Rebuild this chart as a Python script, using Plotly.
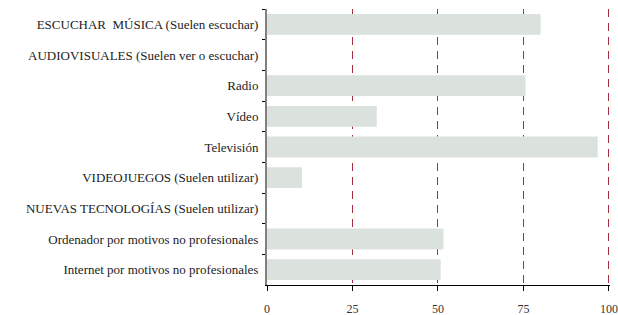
import plotly.graph_objects as go

categories = [
    "ESCUCHAR  MÚSICA (Suelen escuchar)",
    "AUDIOVISUALES (Suelen ver o escuchar)",
    "Radio",
    "Vídeo",
    "Televisión",
    "VIDEOJUEGOS (Suelen utilizar)",
    "NUEVAS TECNOLOGÍAS (Suelen utilizar)",
    "Ordenador por motivos no profesionales",
    "Internet por motivos no profesionales",
]
values = [80.0, None, 75.6, 32.1, 96.7, 10.2, None, 51.6, 50.8]
x_ticks = [0, 25, 50, 75, 100]

font_family = "'Liberation Serif', 'Times New Roman', Times, serif"

fig = go.Figure(go.Bar(
    x=values, y=categories, orientation="h",
    marker=dict(color="#dbe1dc", line=dict(width=0)),
    hoverinfo="skip",
))

fig.update_layout(
    width=618, height=315,
    margin=dict(l=267, r=8, t=9, b=30),
    paper_bgcolor="white", plot_bgcolor="white",
    bargap=0.32,
    showlegend=False,
    font=dict(family=font_family, size=13, color="#222222"),
)
fig.update_xaxes(
    range=[0, 100.3], tickvals=x_ticks, ticktext=[str(v) for v in x_ticks],
    showgrid=True, gridcolor="#a3303f", griddash="8px,6px", gridwidth=1,
    zeroline=False, automargin=False,
    showline=True, linecolor="black", linewidth=1,
    ticks="outside", ticklen=5, tickcolor="black",
    ticklabelstandoff=8,
    tickfont=dict(family=font_family, size=12, color="#333333"),
)
fig.update_yaxes(
    categoryorder="array", categoryarray=categories, autorange="reversed",
    showline=True, linecolor="#808080", linewidth=2,
    ticks="outside", ticklen=3, tickcolor="black", tickson="boundaries",
    showgrid=False, automargin=False,
    ticklabelstandoff=4,
    tickfont=dict(family=font_family, size=13, color="#222222"),
)
fig.write_html(
    "out.html",
    config={"displayModeBar": False},
    post_script="document.body.style.margin='0';document.body.style.padding='0';",
)
